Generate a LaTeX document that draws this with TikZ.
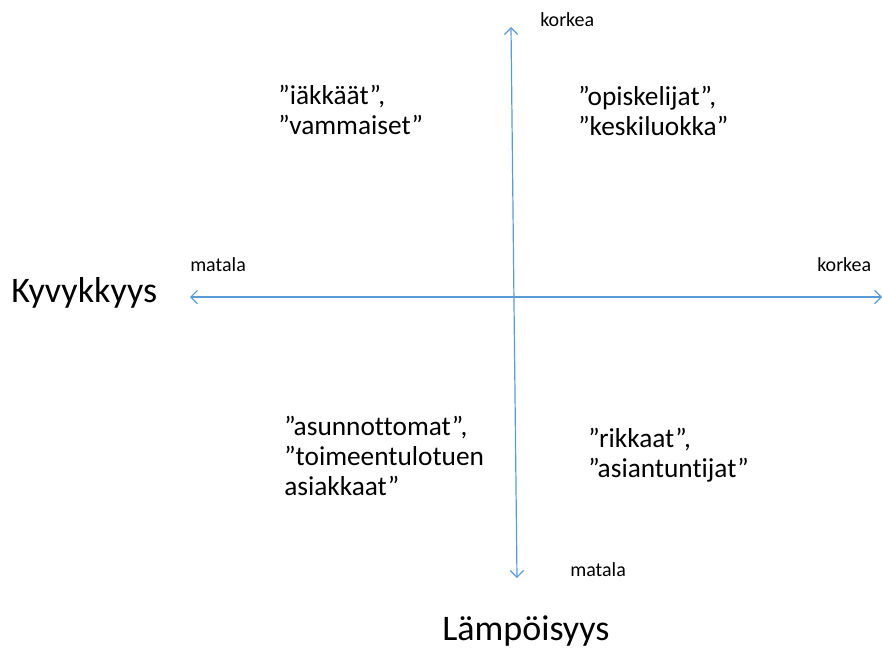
\documentclass[tikz,border=0pt]{standalone}
\usepackage{fontspec}
\setmainfont[Ligatures=CommonOff]{Carlito}
\usetikzlibrary{arrows.meta}
\definecolor{akselisini}{RGB}{91,155,213}
\tikzset{
    akseli/.style={draw=akselisini, line width=0.9pt, {Straight Barb[length=5pt,width=10pt]}-{Straight Barb[length=5pt,width=10pt]}},
    paaty/.style={inner sep=0pt, anchor=base west, font=\fontsize{15}{18}\selectfont},
    otsikko/.style={inner sep=0pt, anchor=base west, font=\fontsize{27}{32}\selectfont},
    ryhma/.style={inner sep=0pt, anchor=base west, align=left, font=\fontsize{20.5}{22.5}\selectfont}
}
\begin{document}
\begin{tikzpicture}[x=0.75pt, y=-0.75pt]
    \useasboundingbox (0,0) rectangle (882,647);

    % Akselien päätepisteet
    \coordinate (vasen) at (190,297);
    \coordinate (oikea) at (882,297);
    \coordinate (yla) at (511,27);
    \coordinate (ala) at (517,578);

    \draw[akseli] (vasen) -- (oikea);  % vaaka-akseli
    \draw[akseli] (ala) -- (yla);      % pystyakseli

    % Akselien päätytekstit
    \node[paaty] (ylakorkea) at (540,26) {korkea};
    \node[paaty] (vasenmatala) at (190,271) {matala};
    \node[paaty] (oikeakorkea) at (817,271) {korkea};
    \node[paaty] (alamatala) at (570,576) {matala};

    % Akselien nimet
    \node[otsikko] (kyvykkyys) at (11,302) {Kyvykkyys};
    \node[otsikko] (lampoisyys) at (442,640) {Lämpöisyys};

    % Ryhmät neljänneksissä (y = viimeisen rivin perusviiva)
    \foreach \nimi/\xPos/\yPos/\teksti in {ikaat/278/134/{”iäkkäät”,\\”vammaiset”},
                                          opisk/578/135/{”opiskelijat”,\\”keskiluokka”},
                                          asunn/284/495/{”asunnottomat”,\\”toimeentulotuen\\asiakkaat”},
                                          rikk/588/477/{”rikkaat”,\\”asiantuntijat”}}
        {
            \node[ryhma] (\nimi) at (\xPos,\yPos) {\teksti};
        }

\end{tikzpicture}
\end{document}
